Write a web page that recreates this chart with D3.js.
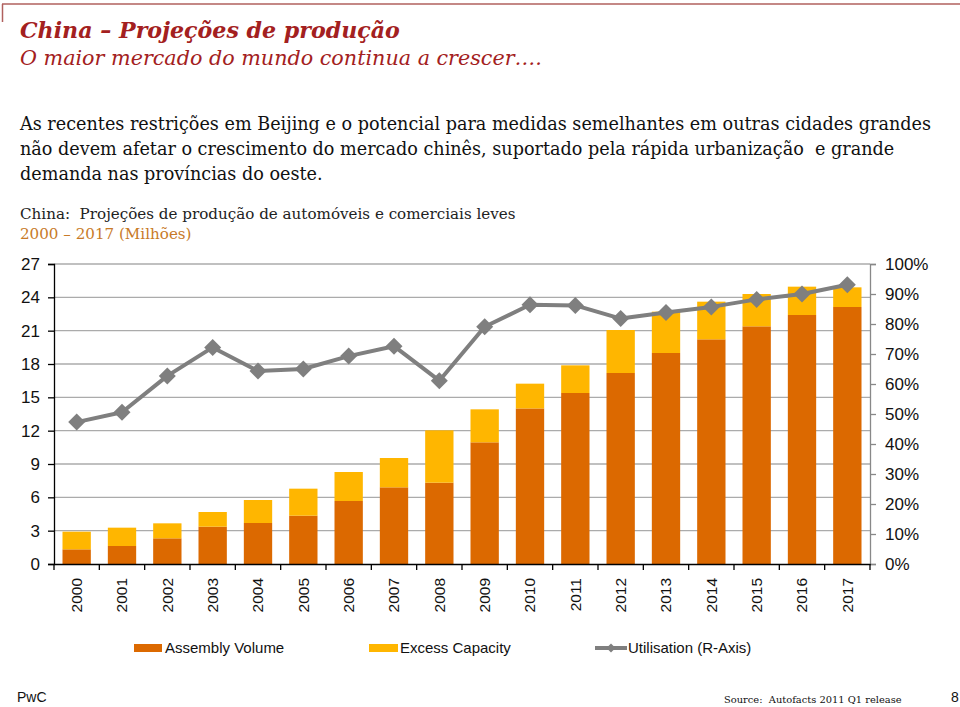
<!DOCTYPE html>
<html><head><meta charset="utf-8">
<script src="https://cdn.jsdelivr.net/npm/d3@7"></script>
<style>
html,body{margin:0;padding:0;background:#fff;}
svg{display:block;}
text{white-space:pre;}
</style></head>
<body>
<svg id="c" width="960" height="707"></svg>
<script>
const years = ["2000","2001","2002","2003","2004","2005","2006","2007","2008","2009","2010","2011","2012","2013","2014","2015","2016","2017"];
const assemblyVolume = [1.32,1.62,2.31,3.36,3.69,4.35,5.67,6.9,7.32,10.95,14.0,15.39,17.19,18.99,20.22,21.39,22.41,23.13];
const totalCapacity = [2.91,3.27,3.66,4.68,5.76,6.78,8.28,9.54,12.03,13.92,16.23,17.88,21.06,22.71,23.61,24.3,24.96,24.9];
const excessCapacity = totalCapacity.map((t,i)=>+(t-assemblyVolume[i]).toFixed(2));
const utilisation = [47.3,50.6,62.7,72.2,64.3,65.0,69.3,72.6,61.1,79.1,86.4,86.2,81.8,83.8,85.7,88.2,90.0,93.1];
const leftTicks = [0,3,6,9,12,15,18,21,24,27];
const rightTicks = [0,10,20,30,40,50,60,70,80,90,100];
const legendLabels = ["Assembly Volume","Excess Capacity","Utilisation (R-Axis)"];

const ORANGE = "#DC6900", YELLOW = "#FFB600", GREY = "#7F7F7F", RED = "#A32020";
const svg = d3.select("#c");

function fit(sel, w){
  const n = sel.node(); const cur = n.getComputedTextLength();
  const fs = parseFloat(sel.attr("font-size"));
  sel.attr("font-size", (fs*w/cur).toFixed(2));
}

// top frame
svg.append("line").attr("x1",2).attr("x2",960).attr("y1",4).attr("y2",4).attr("stroke","#B0605E").attr("stroke-width",1.5);
svg.append("line").attr("x1",2.5).attr("x2",2.5).attr("y1",4).attr("y2",22).attr("stroke","#B0605E").attr("stroke-width",1.5);

const t1 = svg.append("text").attr("x",20).attr("y",38).attr("font-family","DejaVu Serif").attr("font-style","italic").attr("font-weight","bold").attr("font-size",22).attr("fill",RED).text("China – Projeções de produção");
fit(t1,380);
const t2 = svg.append("text").attr("x",20).attr("y",65).attr("font-family","DejaVu Serif").attr("font-style","italic").attr("font-size",22).attr("fill",RED).text("O maior mercado do mundo continua a crescer….");
fit(t2,522);

const body = ["As recentes restrições em Beijing e o potencial para medidas semelhantes em outras cidades grandes",
  "não devem afetar o crescimento do mercado chinês, suportado pela rápida urbanização  e grande",
  "demanda nas províncias do oeste."];
const b0 = svg.append("text").attr("x",20).attr("y",130).attr("font-family","DejaVu Serif").attr("font-size",18).attr("fill","#111").text(body[0]);
fit(b0,912);
const bfs = b0.attr("font-size");
body.slice(1).forEach((s,i)=>{
  svg.append("text").attr("x",20).attr("y",155+i*25).attr("font-family","DejaVu Serif").attr("font-size",bfs).attr("fill","#111").text(s);
});
const c1 = svg.append("text").attr("x",20).attr("y",219).attr("font-family","DejaVu Serif").attr("font-size",14).attr("fill","#222").text("China:  Projeções de produção de automóveis e comerciais leves");
fit(c1,496);
svg.append("text").attr("x",20).attr("y",239).attr("font-family","DejaVu Serif").attr("font-size",c1.attr("font-size")).attr("fill","#C87A28").text("2000 – 2017 (Milhões)");

// chart
const x0 = 54, x1 = 870, yTop = 264, yBot = 564;
const x = d3.scaleBand().domain(years).range([x0,x1]).paddingInner(0.375).paddingOuter(0.1875);
const y = d3.scaleLinear().domain([0,27]).range([yBot,yTop]);
const yr = d3.scaleLinear().domain([0,100]).range([yBot,yTop]);

// gridlines
svg.append("g").selectAll("line").data(leftTicks.filter(d=>d>0)).join("line")
  .attr("x1",x0).attr("x2",x1).attr("y1",d=>y(d)).attr("y2",d=>y(d))
  .attr("stroke","#ABABAB").attr("stroke-width",1.3);

// bars
const stack = d3.stack().keys(["a","e"])(years.map((yy,i)=>({a:assemblyVolume[i],e:excessCapacity[i]})));
const cols = [ORANGE,YELLOW];
stack.forEach((s,k)=>{
  svg.append("g").selectAll("rect").data(s).join("rect")
    .attr("x",(d,i)=>x(years[i])).attr("width",x.bandwidth())
    .attr("y",d=>y(d[1])).attr("height",d=>y(d[0])-y(d[1]))
    .attr("fill",cols[k]);
});

// axes
const fontAx = "Liberation Sans, Arial, sans-serif";
const gl = svg.append("g").attr("transform",`translate(${x0},0)`)
  .call(d3.axisLeft(y).tickValues(leftTicks).tickSize(6).tickPadding(8));
gl.select(".domain").attr("stroke","#000").attr("stroke-width",1.3);
gl.selectAll(".tick line").attr("stroke","#000").attr("stroke-width",1.3);
gl.selectAll("text").attr("font-family",fontAx).attr("font-size",17).attr("fill","#111");

const gr = svg.append("g").attr("transform",`translate(${x1},0)`)
  .call(d3.axisRight(yr).tickValues(rightTicks).tickFormat(d=>d+"%").tickSize(6).tickPadding(9));
gr.select(".domain").attr("stroke","#888").attr("stroke-width",1.3);
gr.selectAll(".tick line").attr("stroke","#888").attr("stroke-width",1.3);
gr.selectAll("text").attr("font-family",fontAx).attr("font-size",17).attr("fill","#111");

const gb = svg.append("g").attr("transform",`translate(0,${yBot})`)
  .call(d3.axisBottom(x).tickSize(0).tickPadding(0));
gb.select(".domain").attr("stroke","#000").attr("stroke-width",1.5);
gb.selectAll("text").attr("font-family",fontAx).attr("font-size",15.5).attr("fill","#111")
  .attr("transform","rotate(-90)").attr("text-anchor","end").attr("dy","0.35em").attr("x",-14).attr("y",0);
// separator ticks between categories
const sepX = years.map((d,i)=> x0 + i*((x1-x0)/years.length)).concat([x1]);
svg.append("g").selectAll("line").data(sepX).join("line")
  .attr("x1",d=>d).attr("x2",d=>d).attr("y1",yBot).attr("y2",yBot+6)
  .attr("stroke","#000").attr("stroke-width",1.3);

// utilisation line
const cx = d => x(d)+x.bandwidth()/2;
const line = d3.line().x((d,i)=>cx(years[i])).y(d=>yr(d));
svg.append("path").datum(utilisation).attr("d",line).attr("fill","none").attr("stroke",GREY).attr("stroke-width",4).attr("stroke-linejoin","round");
const dm = r => `M0,${-r}L${r},0L0,${r}L${-r},0Z`;
svg.append("g").selectAll("path").data(utilisation).join("path")
  .attr("transform",(d,i)=>`translate(${cx(years[i])},${yr(d)})`).attr("d",dm(8.5)).attr("fill",GREY);

// legend
const ly = 648;
svg.append("rect").attr("x",134).attr("y",ly-4).attr("width",28).attr("height",8).attr("fill",ORANGE);
svg.append("rect").attr("x",369).attr("y",ly-4).attr("width",29).attr("height",8).attr("fill",YELLOW);
svg.append("line").attr("x1",595).attr("x2",627).attr("y1",ly).attr("y2",ly).attr("stroke",GREY).attr("stroke-width",4);
svg.append("path").attr("transform",`translate(611,${ly})`).attr("d",dm(4.5)).attr("fill",GREY);
[[165,0],[400,1],[628,2]].forEach(([lx,i])=>{
  svg.append("text").attr("x",lx).attr("y",ly+5).attr("font-family",fontAx).attr("font-size",15).attr("fill","#111").text(legendLabels[i]);
});

// footer
svg.append("text").attr("x",17).attr("y",702).attr("font-family",fontAx).attr("font-size",14).attr("fill","#111").text("PwC");
const src = svg.append("text").attr("x",724).attr("y",703).attr("font-family","DejaVu Serif").attr("font-size",12).attr("fill","#111").text("Source:  Autofacts 2011 Q1 release");
fit(src,178);
svg.append("text").attr("x",951).attr("y",702).attr("font-family",fontAx).attr("font-size",14).attr("fill","#111").text("8");
</script>
</body></html>
